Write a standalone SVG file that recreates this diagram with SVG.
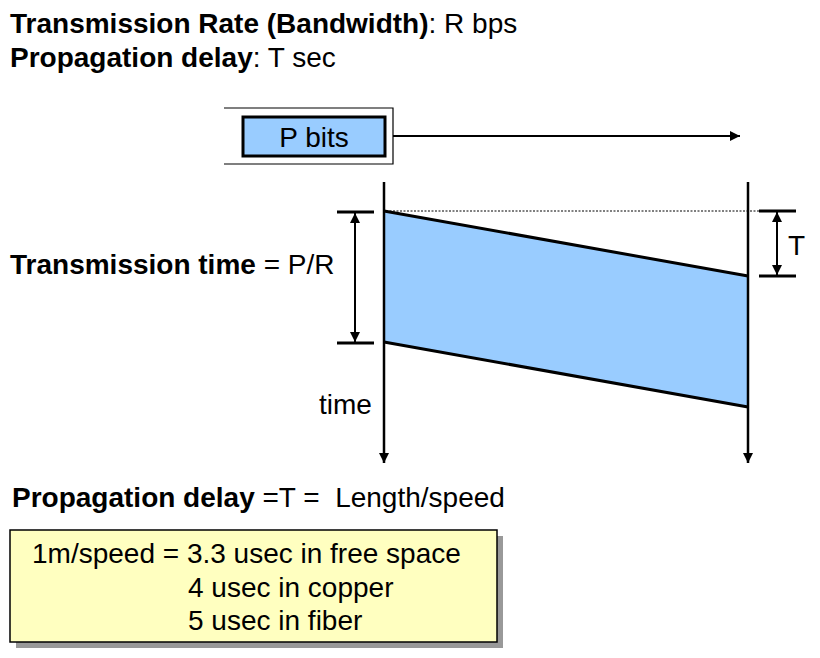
<svg xmlns="http://www.w3.org/2000/svg" width="820" height="658" viewBox="0 0 820 658">
<defs>
<style>
text{font-family:"Liberation Sans",Arial,sans-serif;font-size:28px;fill:#000;white-space:pre}
.b{font-weight:bold}
.ln{stroke:#000;stroke-width:3;fill:none}
.tk{stroke:#000;stroke-width:3}
</style>
<marker id="ah" viewBox="0 0 10 10" refX="10" refY="5" markerWidth="10" markerHeight="10" markerUnits="userSpaceOnUse" orient="auto-start-reverse">
<path d="M0,0 L10,5 L0,10 z" fill="#000"/>
</marker>
</defs>
<rect width="820" height="658" fill="#fff"/>
<g id="header">
<text x="10" y="33"><tspan class="b">Transmission Rate (Bandwidth)</tspan>: R bps</text>
<text x="10" y="67"><tspan class="b">Propagation delay</tspan>: T sec</text>
</g>
<g id="packet">
<path d="M224,108 H393 V164 H224" fill="none" stroke="#000" stroke-width="1.2"/>
<rect x="243" y="117" width="142" height="39" fill="#99ccff" stroke="#000" stroke-width="3"/>
<text x="314" y="147" text-anchor="middle">P bits</text>
</g>
<g id="signal">
<polygon points="384,211 748,276 748,407 384,342" fill="#99ccff" stroke="none"/>
<line x1="384" y1="211" x2="748" y2="276" class="ln"/>
<line x1="384" y1="342" x2="748" y2="407" class="ln"/>
</g>
<g id="connectors">
<line x1="393" y1="136" x2="740" y2="136" stroke="#000" stroke-width="2" marker-end="url(#ah)"/>
<line x1="384" y1="182" x2="384" y2="463" stroke="#000" stroke-width="2.5" marker-end="url(#ah)"/>
<line x1="748" y1="182" x2="748" y2="463" stroke="#000" stroke-width="2.5" marker-end="url(#ah)"/>
<line x1="386" y1="211" x2="760" y2="211" stroke="#000" stroke-width="1" stroke-dasharray="2,1.5"/>
<line x1="337" y1="212" x2="374" y2="212" class="tk"/>
<line x1="337" y1="343" x2="374" y2="343" class="tk"/>
<line x1="355" y1="213" x2="355" y2="342" stroke="#000" stroke-width="2" marker-start="url(#ah)" marker-end="url(#ah)"/>
<line x1="759" y1="211" x2="796" y2="211" class="tk"/>
<line x1="759" y1="276" x2="796" y2="276" class="tk"/>
<line x1="777" y1="212" x2="777" y2="275" stroke="#000" stroke-width="2" marker-start="url(#ah)" marker-end="url(#ah)"/>
</g>
<g id="labels">
<text x="10" y="274"><tspan class="b">Transmission time</tspan> = P/R</text>
<text x="319" y="414">time</text>
<text x="788" y="255">T</text>
<text x="12" y="507"><tspan class="b">Propagation delay</tspan> =T =  Length/speed</text>
</g>
<g id="note">
<rect x="16" y="536" width="487" height="112" fill="#999"/>
<rect x="10" y="530" width="487" height="112" fill="#ffffc0" stroke="#000" stroke-width="1.5"/>
<text x="32" y="563">1m/speed = 3.3 usec in free space</text>
<text x="188" y="597">4 usec in copper</text>
<text x="188" y="630">5 usec in fiber</text>
</g>
</svg>
